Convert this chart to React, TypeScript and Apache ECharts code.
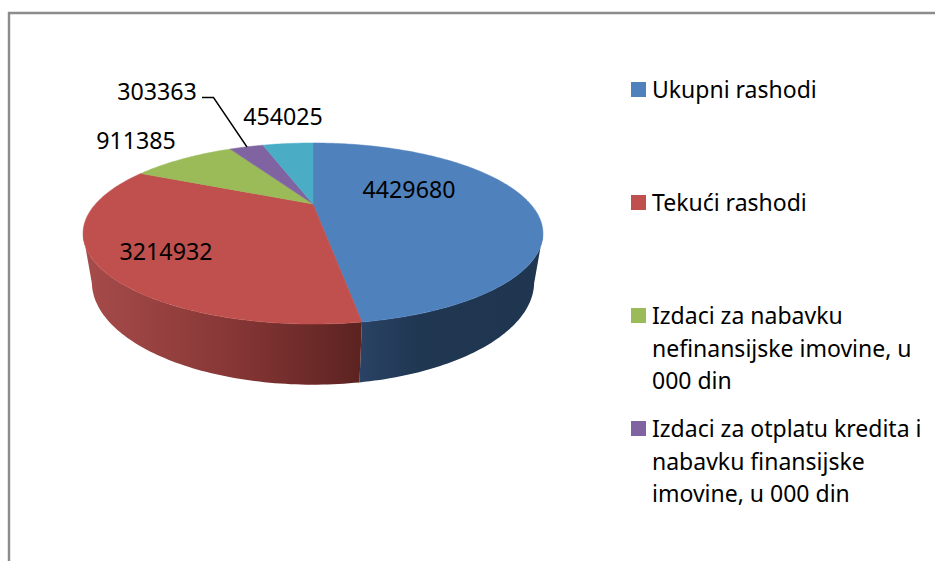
import React, { useEffect, useRef } from "react";
import * as echarts from "echarts";

const categories = [
  "Ukupni rashodi",
  "Tekući rashodi",
  "Izdaci za nabavku\nnefinansijske imovine, u\n000 din",
  "Izdaci za otplatu kredita i\nnabavku finansijske\nimovine, u 000 din",
  "Ostalo",
];
const values = [4429680, 3214932, 911385, 303363, 454025];
const colors = ["#4F81BD", "#C0504D", "#9BBB59", "#8064A2", "#4BACC6"];
const legendCount = 4;

const labelCenters = [
  [409, 189],
  [166, 251],
  [136, 140],
  [157, 91],
  [283, 116],
];
const wallStops = [
  [[360, "#2A4264"], [420, "#203752"], [545, "#1F3550"]],
  [[90, "#A54B4A"], [230, "#873736"], [360, "#5C2321"]],
  [[90, "#5D7135"], [360, "#5D7135"]],
  [[90, "#4D3C62"], [360, "#4D3C62"]],
  [[90, "#2D6777"], [360, "#2D6777"]],
];

const FONT = '"Noto Sans", sans-serif';
const total = values.reduce((a, b) => a + b, 0);
const cum: number[] = [0];
values.forEach((v, i) => cum.push(cum[i] + v));

// Perspective projection of the pie's disc (top face h=0, bottom face h=1)
const CX = 313, APEX = 204, R = 217.4, A = 14.4, C = -0.326, P = 54.6, Q = 0.0357;
function project(theta: number, h: number): [number, number] {
  const s = Math.sin(theta);
  const t = -Math.cos(theta);
  const w = 1 + C * t + h * Q;
  return [CX + (R * s) / w, (A * t + APEX + h * P) / w];
}
function arc(a0: number, a1: number, h: number) {
  const n = Math.max(2, Math.ceil(((a1 - a0) * 180) / Math.PI));
  const pts: [number, number][] = [];
  for (let i = 0; i <= n; i++) pts.push(project(a0 + ((a1 - a0) * i) / n, h));
  return pts;
}
const angle = (i: number) => (cum[i] / total) * Math.PI * 2;
// The side wall is only visible between the two silhouette generators
const WALL_START = Math.acos(C);
const WALL_END = Math.PI * 2 - WALL_START;

function renderWall(params: any) {
  const i = params.dataIndex;
  const a0 = Math.max(angle(i), WALL_START);
  const a1 = Math.min(angle(i + 1), WALL_END);
  if (a1 <= a0) return null;
  const top = arc(a0, a1, 0);
  const bottom = arc(a0, a1, 1).reverse();
  const stops = wallStops[i] as [number, string][];
  const x0 = stops[0][0];
  const x1 = stops[stops.length - 1][0];
  return {
    type: "polygon",
    shape: { points: [...top, ...bottom] },
    style: {
      fill: new echarts.graphic.LinearGradient(
        x0, 0, x1, 0,
        stops.map(([x, color]) => ({ offset: (x - x0) / (x1 - x0), color })),
        true
      ),
    },
  };
}

function renderTop(params: any, api: any) {
  const i = params.dataIndex;
  const pts = [[CX, APEX], ...arc(angle(i), angle(i + 1), 0)];
  return {
    type: "group",
    children: [
      {
        type: "polygon",
        shape: { points: pts },
        style: { fill: colors[i], stroke: colors[i], lineWidth: 0.5 },
      },
      {
        type: "text",
        z2: 10,
        style: {
          text: String(api.value(0)),
          x: labelCenters[i][0],
          y: labelCenters[i][1],
          align: "center",
          verticalAlign: "middle",
          font: `23.2px ${FONT}`,
          fill: "#000000",
        },
      },
    ],
  };
}

const legendGraphics: any[] = [];
categories.slice(0, legendCount).forEach((name, i) => {
  const y = 82 + i * 113;
  legendGraphics.push({
    type: "rect",
    shape: { x: 631, y, width: 15, height: 15 },
    style: { fill: colors[i] },
  });
  legendGraphics.push({
    type: "text",
    x: 652,
    y: y - 9,
    style: {
      text: name,
      font: `23px ${FONT}`,
      lineHeight: 32.5,
      fill: "#000000",
      align: "left",
      verticalAlign: "top",
    },
  });
});

export default function App() {
  const ref = useRef<HTMLDivElement>(null);
  useEffect(() => {
    const chart = echarts.init(ref.current!, undefined, { renderer: "svg" });
    chart.setOption({
      animation: false,
      backgroundColor: "#ffffff",
      series: [
        {
          type: "custom",
          coordinateSystem: "none",
          silent: true,
          z: 1,
          data: values.map((value, i) => ({ name: categories[i], value })),
          renderItem: renderWall,
        },
        {
          type: "custom",
          coordinateSystem: "none",
          silent: true,
          z: 2,
          data: values.map((value, i) => ({ name: categories[i], value })),
          renderItem: renderTop,
        },
      ],
      graphic: [
        {
          type: "polyline",
          shape: { points: [[9, 561], [9, 13], [935, 13]] },
          style: { stroke: "#8C8C8C", lineWidth: 2.4, fill: "none" },
        },
        {
          type: "polyline",
          z: 5,
          shape: { points: [[202, 97.5], [213.5, 97.5], [247, 147]] },
          style: { stroke: "#000000", lineWidth: 1.4, fill: "none" },
        },
        ...legendGraphics,
      ],
    });
    return () => chart.dispose();
  }, []);
  return (
    <div
      ref={ref}
      style={{ position: "absolute", left: 0, top: 0, width: 935, height: 561 }}
    />
  );
}
